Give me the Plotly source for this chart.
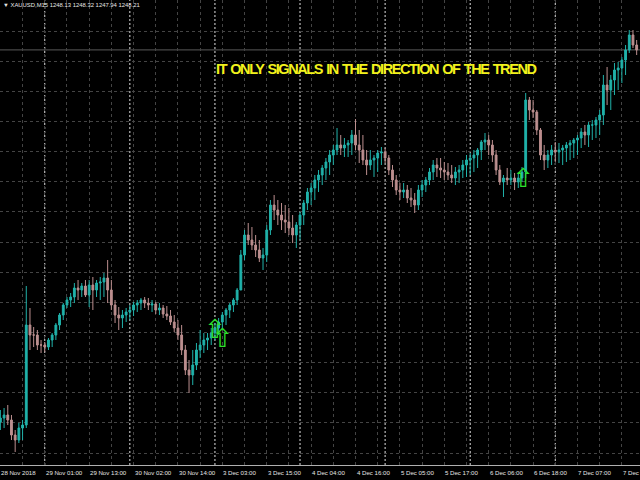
import plotly.graph_objects as go

# ---- data (hourly bars, bar index 0 = 28 Nov 2018 12:00) ----
high = [1212.2,1212.4,1212.7,1211.7,1210.2,1210.9,1211.2,1224.6,1222.4,1220.5,
        1220.2,1219.2,1219.0,1219.4,1219.9,1220.9,1221.9,1222.9,1223.5,1223.9,
        1224.9,1225.2,1224.9,1225.2,1225.2,1225.5,1225.2,1225.5,1225.9,1227.2,
        1225.2,1223.2,1222.5,1222.2,1222.4,1222.7,1223.0,1223.2,1223.4,1223.5,
        1223.4,1223.2,1223.0,1222.9,1222.7,1222.6,1222.2,1221.7,1221.2,1220.7,
        1218.7,1217.2,1218.2,1218.9,1220.2,1219.9,1219.9,1220.4,1220.9,1221.4,
        1222.0,1222.4,1222.9,1223.4,1224.4,1228.2,1230.2,1230.9,1230.5,1229.7,
        1229.2,1228.4,1230.7,1233.2,1233.7,1233.2,1232.9,1232.7,1232.4,1231.7,
        1231.0,1232.0,1233.2,1234.4,1234.9,1235.7,1236.2,1236.7,1237.4,1238.2,
        1238.7,1240.4,1239.7,1239.4,1239.2,1240.2,1241.3,1240.2,1239.7,1238.2,
        1238.2,1237.7,1238.2,1238.5,1238.4,1237.7,1236.7,1235.7,1234.9,1234.9,
        1234.7,1234.4,1233.9,1234.7,1235.2,1235.5,1236.4,1237.2,1237.4,1237.4,
        1237.0,1236.9,1236.7,1236.5,1236.7,1237.2,1237.7,1237.9,1238.2,1238.4,
        1239.2,1239.9,1239.7,1239.2,1238.2,1236.7,1235.7,1236.4,1236.2,1235.9,
        1236.0,1236.5,1243.9,1243.5,1243.2,1242.2,1240.4,1238.7,1238.2,1238.7,
        1239.0,1238.9,1238.7,1239.0,1239.2,1239.4,1239.7,1240.4,1240.7,1241.0,
        1241.2,1241.5,1242.2,1245.7,1246.5,1245.7,1246.9,1247.0,1247.5,1248.7,
        1250.2,1250.2,1249.2]
low = [1210.2,1210.4,1210.7,1209.2,1208.0,1208.9,1209.2,1210.4,1218.2,1218.5,
       1218.2,1217.9,1218.0,1218.2,1218.5,1219.2,1220.2,1221.2,1222.4,1222.5,
       1222.9,1223.2,1223.5,1223.5,1222.5,1222.2,1223.5,1223.2,1223.5,1222.9,
       1222.2,1220.9,1220.2,1220.4,1221.0,1221.2,1221.6,1222.0,1222.2,1222.4,
       1222.2,1222.0,1221.8,1221.7,1221.4,1221.2,1220.7,1220.0,1219.2,1217.7,
       1215.7,1213.9,1214.7,1216.2,1217.4,1217.9,1218.2,1218.7,1219.2,1219.7,
       1220.2,1220.7,1221.4,1222.0,1222.7,1224.2,1227.2,1228.7,1228.2,1227.5,
       1227.0,1226.2,1227.0,1229.7,1231.2,1230.7,1230.2,1229.9,1229.7,1228.9,
       1228.4,1229.2,1230.7,1232.2,1232.7,1233.2,1234.0,1234.7,1235.2,1235.7,
       1236.7,1237.7,1237.7,1237.5,1237.5,1237.7,1238.2,1236.9,1236.7,1235.7,
       1236.2,1235.5,1236.0,1236.7,1236.9,1235.7,1234.5,1233.7,1233.2,1233.4,
       1232.9,1232.5,1231.9,1232.2,1233.5,1234.0,1234.7,1235.2,1235.5,1235.4,
       1235.2,1235.2,1234.9,1234.7,1234.9,1235.4,1235.5,1235.7,1236.0,1236.4,
       1237.2,1238.2,1237.7,1237.0,1235.7,1234.7,1233.5,1234.7,1234.7,1234.2,
       1234.4,1235.0,1235.4,1241.2,1241.4,1239.7,1237.2,1236.2,1236.4,1236.7,
       1237.0,1236.9,1236.7,1237.0,1237.2,1237.4,1237.7,1238.4,1238.7,1238.5,
       1239.2,1239.4,1239.7,1240.7,1242.7,1242.2,1243.7,1244.2,1244.9,1245.7,
       1247.9,1248.4,1247.7]
close = [1211.4,1211.7,1211.2,1209.7,1209.2,1210.4,1210.7,1220.7,1219.7,1219.7,
         1218.7,1218.7,1218.5,1219.2,1219.7,1220.7,1221.7,1222.7,1223.2,1223.5,
         1224.4,1224.2,1224.6,1223.7,1224.7,1224.2,1224.9,1225.0,1225.4,1224.2,
         1222.7,1221.7,1221.4,1221.7,1222.0,1222.2,1222.7,1222.9,1223.2,1222.9,
         1222.7,1222.8,1222.2,1222.4,1221.8,1221.6,1221.0,1220.4,1219.7,1218.2,
         1216.2,1215.7,1216.7,1218.2,1218.7,1219.2,1219.4,1219.9,1220.4,1221.0,
         1221.7,1222.2,1222.7,1223.2,1224.2,1227.7,1229.7,1229.2,1228.7,1228.2,
         1227.4,1227.7,1230.2,1232.7,1232.2,1231.7,1231.2,1231.0,1230.4,1229.7,
         1230.7,1231.7,1232.9,1234.0,1234.4,1235.2,1235.7,1236.4,1237.0,1237.7,
         1238.2,1238.7,1238.4,1238.7,1238.9,1239.7,1238.7,1238.2,1237.2,1236.7,
         1237.2,1237.4,1237.9,1238.0,1237.4,1236.2,1235.2,1234.2,1234.0,1234.2,
         1233.4,1233.2,1232.7,1234.2,1234.7,1235.2,1236.0,1236.7,1236.4,1236.2,
         1236.0,1235.7,1235.4,1236.0,1236.2,1236.7,1237.2,1237.4,1237.7,1238.2,
         1239.0,1239.2,1238.7,1237.7,1236.2,1235.0,1235.4,1235.2,1235.4,1235.0,
         1235.4,1236.0,1243.2,1242.2,1242.0,1240.2,1237.7,1237.2,1237.7,1238.2,
         1238.0,1238.2,1238.4,1238.7,1238.9,1239.2,1239.4,1240.0,1239.7,1240.7,
         1240.7,1241.2,1241.7,1244.7,1244.2,1245.2,1246.2,1246.4,1247.2,1248.2,
         1249.7,1248.7,1248.21]
first_open = 1211.0

tick_hours = [0, 12, 24, 36, 48, 60, 72, 84, 96, 108, 120, 132, 144, 156, 168]
tick_labels = ["28 Nov 2018", "29 Nov 01:00", "29 Nov 13:00", "30 Nov 02:00",
               "30 Nov 14:00", "3 Dec 03:00", "3 Dec 15:00", "4 Dec 04:00",
               "4 Dec 16:00", "5 Dec 05:00", "5 Dec 17:00", "6 Dec 06:00",
               "6 Dec 18:00", "7 Dec 07:00", "7 Dec 19:00"]
day_start_bars = [12, 35, 58, 81, 104, 127, 150]

signal_bars = [58.0, 60.0, 141.3]
signal_prices = [1220.05, 1219.15, 1235.15]

header = "▼ XAUUSD,M15 1248.13 1248.32 1247.94 1248.21"
message = "IT ONLY SIGNALS IN THE DIRECTION OF THE TREND"

# ---- build ----
n = len(close)
bars = list(range(n))
opens = [first_open] + close[:-1]
highs = [max(h, o, c) for h, o, c in zip(high, opens, close)]
lows = [min(l, o, c) for l, o, c in zip(low, opens, close)]

UP = "#20B2AA"
DN = "#BC8F8F"

fig = go.Figure()
fig.add_trace(go.Candlestick(
    x=bars, open=opens, high=highs, low=lows, close=close,
    increasing=dict(line=dict(color=UP, width=1), fillcolor=UP),
    decreasing=dict(line=dict(color=DN, width=1), fillcolor=DN),
    whiskerwidth=0, showlegend=False, hoverinfo="skip"))

fig.add_trace(go.Scatter(
    x=signal_bars, y=signal_prices, mode="text", text=["⇧"] * len(signal_bars),
    textfont=dict(family="DejaVu Sans", size=26, color="#2EE02E"),
    textposition="middle center", showlegend=False, hoverinfo="skip"))

shapes = []
for b in day_start_bars:
    shapes.append(dict(type="line", xref="x", yref="paper", x0=b, x1=b, y0=0, y1=1,
                       line=dict(color="#E0E0E0", width=1, dash="2px,2px"), layer="below"))
shapes.append(dict(type="line", xref="paper", yref="y", x0=0, x1=1,
                   y0=close[-1], y1=close[-1],
                   line=dict(color="#5A5A5A", width=1), layer="below"))

annotations = []
for h, t in zip(tick_hours, tick_labels):
    annotations.append(dict(x=h, y=0, xref="x", yref="paper", text=t, showarrow=False,
                            xanchor="left", yanchor="top", xshift=-1, yshift=-2,
                            font=dict(family="Liberation Sans", size=6.1, color="#E6E6E6")))
annotations.append(dict(x=0, y=1, xref="paper", yref="paper", text=header, showarrow=False,
                        xanchor="left", yanchor="top", xshift=1, yshift=0,
                        font=dict(family="Liberation Sans", size=5.9, color="#E6E6E6")))
annotations.append(dict(x=376 / 640, y=1 - 59 / 465, xref="paper", yref="paper",
                        text='<span style="letter-spacing:-1.4px;word-spacing:1.5px">'
                             + message + '</span>',
                        showarrow=False,
                        font=dict(family="Liberation Sans", size=14.5,
                                  color="#F2F21C", weight="bold")))

fig.update_layout(
    width=640, height=480,
    margin=dict(l=0, r=0, t=0, b=15),
    paper_bgcolor="black", plot_bgcolor="black",
    hovermode=False,
    shapes=shapes, annotations=annotations,
    xaxis=dict(range=[-0.1, 172.9], rangeslider=dict(visible=False),
               showgrid=True, gridcolor="#444444", griddash="dot", gridwidth=1,
               tick0=0, dtick=6, showticklabels=False, zeroline=False,
               showline=True, linecolor="#B0B0B0", linewidth=1, ticks=""),
    yaxis=dict(range=[1206.7, 1253.2], showgrid=True, gridcolor="#444444",
               griddash="dot", gridwidth=1, tick0=1250.1, dtick=3.015,
               showticklabels=False, zeroline=False, showline=False, ticks=""),
)

fig.write_html("out.html", config={"displayModeBar": False},
               post_script="document.body.style.margin='0';document.body.style.background='black';")
